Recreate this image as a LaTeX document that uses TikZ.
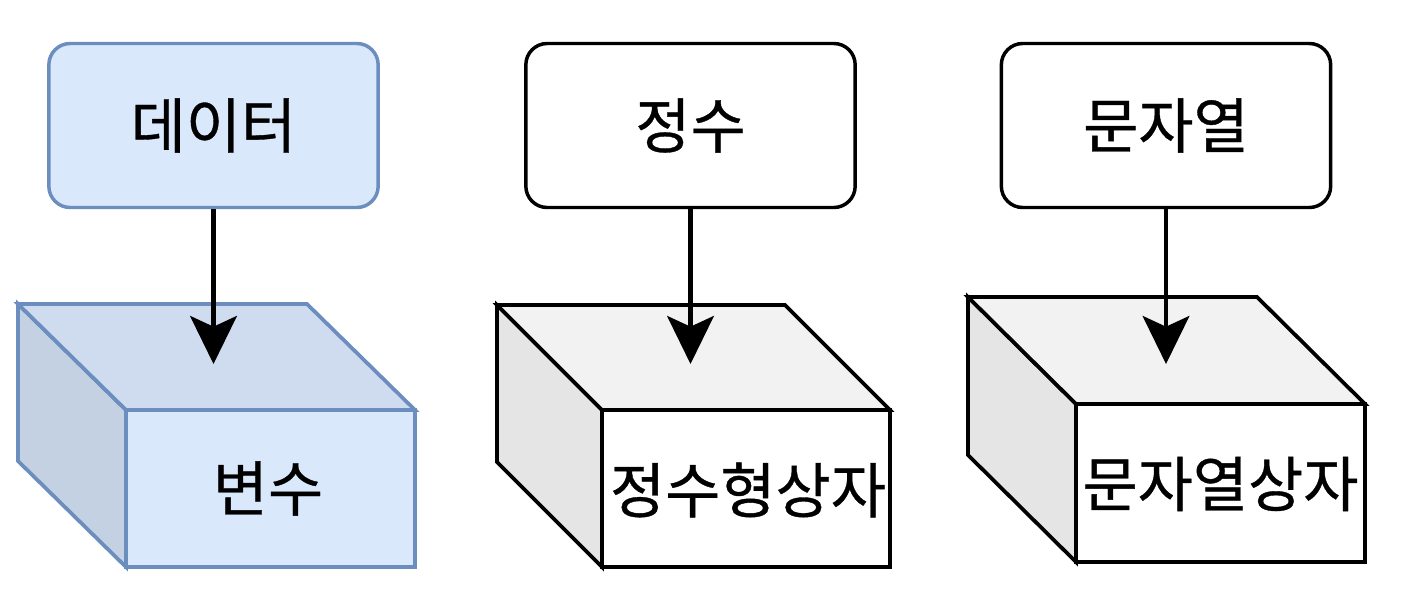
\documentclass[tikz,border=0pt]{standalone}
\usepackage{fontspec}
\newfontfamily\kofont[FakeBold=0.6]{Noto Sans CJK KR}
\usetikzlibrary{arrows.meta}
\definecolor{blueFill}{HTML}{DAE8FC}
\definecolor{blueLine}{HTML}{6C8EBF}
\tikzset{
  termbox/.style={draw, rounded corners=16pt, line width=2.6pt,
    minimum width=247pt, minimum height=123pt, inner sep=0pt,
    font=\kofont\fontsize{45}{45}\selectfont},
  cubelabel/.style={inner sep=0pt, font=\kofont\fontsize{45}{45}\selectfont},
  cubeline/.style={line width=2.8pt, line join=miter},
  flow/.style={line width=3.2pt, -{Stealth[length=36pt, width=35pt, inset=8pt]}}
}
\begin{document}
\begin{tikzpicture}[x=0.75pt, y=-0.75pt]
    \useasboundingbox (0,0) rectangle (1426,612);
    % Top boxes
    \node[termbox, fill=blueFill, draw=blueLine] (data) at (213.5,125.5) {데이터};
    \node[termbox, fill=white, draw=black] (int) at (690.5,125.5) {정수};
    \node[termbox, fill=white, draw=black] (str) at (1166,125.5) {문자열};
    % Cube 1: front face x 126-415, y 410-567, depth (108,106)
    \filldraw[cubeline, draw=blueLine, fill=blueFill!90!black]
      (18,304) -- (126,410) -- (126,567) -- (18,461) -- cycle;
    \filldraw[cubeline, draw=blueLine, fill=blueFill!95!black]
      (18,304) -- (307,304) -- (415,410) -- (126,410) -- cycle;
    \filldraw[cubeline, draw=blueLine, fill=blueFill]
      (126,410) rectangle (415,567);
    \node[cubelabel] (var) at (268,488.5) {변수};
    % Cube 2: front face x 602-890, y 410-567, depth (105,105)
    \filldraw[cubeline, draw=black, fill=black!10]
      (497,305) -- (602,410) -- (602,567) -- (497,462) -- cycle;
    \filldraw[cubeline, draw=black, fill=black!5]
      (497,305) -- (785,305) -- (890,410) -- (602,410) -- cycle;
    \filldraw[cubeline, draw=black, fill=white]
      (602,410) rectangle (890,567);
    \node[cubelabel] (intbox) at (748,490) {정수형상자};
    % Cube 3: front face x 1076-1365, y 404-562, depth (108,107)
    \filldraw[cubeline, draw=black, fill=black!10]
      (968,297) -- (1076,404) -- (1076,562) -- (968,455) -- cycle;
    \filldraw[cubeline, draw=black, fill=black!5]
      (968,297) -- (1257,297) -- (1365,404) -- (1076,404) -- cycle;
    \filldraw[cubeline, draw=black, fill=white]
      (1076,404) rectangle (1365,562);
    \node[cubelabel] (strbox) at (1220.5,484) {문자열상자};
    % Arrows into the cube tops
    \coordinate (dataTip) at (213.5,364);
    \coordinate (intTip) at (690.5,364);
    \coordinate (strTip) at (1166,364);
    \draw[flow] (data.south) -- (dataTip);
    \draw[flow] (int.south) -- (intTip);
    \draw[flow] (str.south) -- (strTip);
  \end{tikzpicture}
\end{document}
